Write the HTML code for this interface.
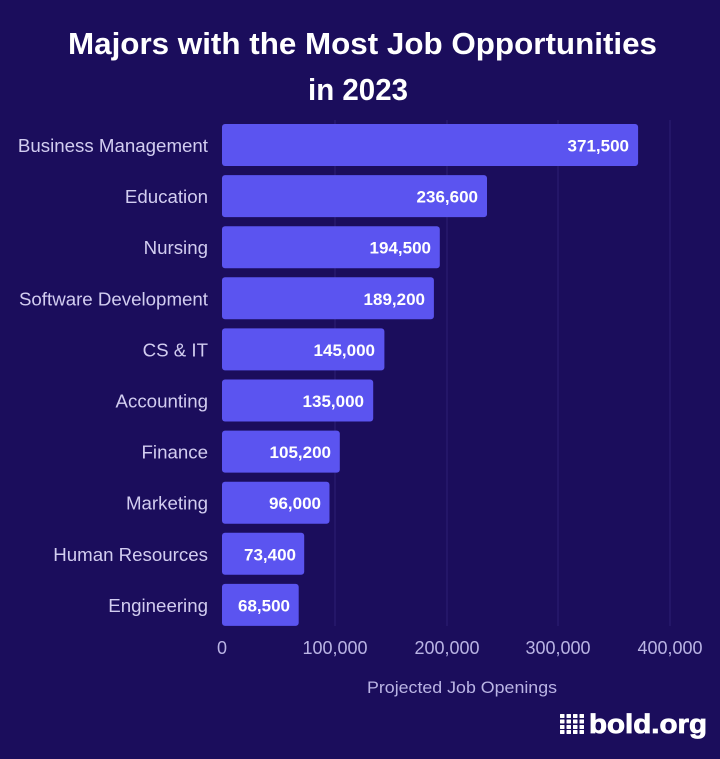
<!DOCTYPE html>
<html>
<head>
<meta charset="utf-8">
<style>
  html, body { margin: 0; padding: 0; background: #1b0d5c; }
  svg { display: block; }
  text { font-family: "Liberation Sans", "DejaVu Sans", sans-serif; }
</style>
</head>
<body>
<svg width="720" height="759" viewBox="0 0 720 759" xmlns="http://www.w3.org/2000/svg">
  <rect x="0" y="0" width="720" height="759" fill="#1b0d5c"/>

  <!-- Title -->
  <text x="68" y="54" font-size="31" font-weight="bold" fill="#ffffff" textLength="589" lengthAdjust="spacingAndGlyphs">Majors with the Most Job Opportunities</text>
  <text x="308" y="100" font-size="31" font-weight="bold" fill="#ffffff" textLength="100" lengthAdjust="spacingAndGlyphs">in 2023</text>

  <!-- Gridlines -->
  <g stroke="#2c1f74" stroke-width="1">
    <line x1="335" y1="120" x2="335" y2="626"/>
    <line x1="447" y1="120" x2="447" y2="626"/>
    <line x1="558" y1="120" x2="558" y2="626"/>
    <line x1="670" y1="120" x2="670" y2="626"/>
  </g>

  <!-- Bars -->
  <g fill="#5b54f0">
    <rect x="222" y="124" width="416.1" height="42" rx="3"/>
    <rect x="222" y="175.1" width="265.0" height="42" rx="3"/>
    <rect x="222" y="226.2" width="217.8" height="42" rx="3"/>
    <rect x="222" y="277.3" width="211.9" height="42" rx="3"/>
    <rect x="222" y="328.4" width="162.4" height="42" rx="3"/>
    <rect x="222" y="379.5" width="151.2" height="42" rx="3"/>
    <rect x="222" y="430.6" width="117.8" height="42" rx="3"/>
    <rect x="222" y="481.7" width="107.5" height="42" rx="3"/>
    <rect x="222" y="532.8" width="82.2" height="42" rx="3"/>
    <rect x="222" y="583.9" width="76.7" height="42" rx="3"/>
  </g>

  <!-- Value labels -->
  <g font-size="17" font-weight="bold" fill="#ffffff" text-anchor="end">
    <text x="629" y="151.5">371,500</text>
    <text x="478" y="202.6">236,600</text>
    <text x="431" y="253.7">194,500</text>
    <text x="425" y="304.8">189,200</text>
    <text x="375" y="355.9">145,000</text>
    <text x="364" y="407.0">135,000</text>
    <text x="331" y="458.1">105,200</text>
    <text x="321" y="509.2">96,000</text>
    <text x="296" y="560.3">73,400</text>
    <text x="290" y="611.4">68,500</text>
  </g>

  <!-- Category labels -->
  <g font-size="18.7" fill="#d2cdf0" text-anchor="end">
    <text x="208" y="152">Business Management</text>
    <text x="208" y="203.1">Education</text>
    <text x="208" y="254.2">Nursing</text>
    <text x="208" y="305.3">Software Development</text>
    <text x="208" y="356.4">CS &amp; IT</text>
    <text x="208" y="407.5">Accounting</text>
    <text x="208" y="458.6">Finance</text>
    <text x="208" y="509.7">Marketing</text>
    <text x="208" y="560.8">Human Resources</text>
    <text x="208" y="611.9">Engineering</text>
  </g>

  <!-- X tick labels -->
  <g font-size="18" fill="#bab4e4" text-anchor="middle">
    <text x="222" y="654">0</text>
    <text x="335" y="654">100,000</text>
    <text x="447" y="654">200,000</text>
    <text x="558" y="654">300,000</text>
    <text x="670" y="654">400,000</text>
  </g>

  <!-- Axis title -->
  <text x="367" y="693" font-size="17" fill="#bab4e4" textLength="190" lengthAdjust="spacingAndGlyphs">Projected Job Openings</text>

  <!-- Logo -->
  <g fill="#ffffff">
    <rect x="560" y="714" width="4.5" height="4" rx="0.5"/>
    <rect x="566.5" y="714" width="4.5" height="4" rx="0.5"/>
    <rect x="573" y="714" width="4.5" height="4" rx="0.5"/>
    <rect x="579.5" y="714" width="4.5" height="4" rx="0.5"/>
    <rect x="560" y="719.5" width="4.5" height="4" rx="0.5"/>
    <rect x="566.5" y="719.5" width="4.5" height="4" rx="0.5"/>
    <rect x="573" y="719.5" width="4.5" height="4" rx="0.5"/>
    <rect x="579.5" y="719.5" width="4.5" height="4" rx="0.5"/>
    <rect x="560" y="725" width="4.5" height="4" rx="0.5"/>
    <rect x="566.5" y="725" width="4.5" height="4" rx="0.5"/>
    <rect x="573" y="725" width="4.5" height="4" rx="0.5"/>
    <rect x="579.5" y="725" width="4.5" height="4" rx="0.5"/>
    <rect x="560" y="730" width="4.5" height="4" rx="0.5"/>
    <rect x="566.5" y="730" width="4.5" height="4" rx="0.5"/>
    <rect x="573" y="730" width="4.5" height="4" rx="0.5"/>
    <rect x="579.5" y="730" width="4.5" height="4" rx="0.5"/>
  </g>
  <text x="589" y="733" font-size="27" font-weight="bold" fill="#ffffff" stroke="#ffffff" stroke-width="0.8" textLength="118" lengthAdjust="spacingAndGlyphs">bold.org</text>
</svg>
</body>
</html>
